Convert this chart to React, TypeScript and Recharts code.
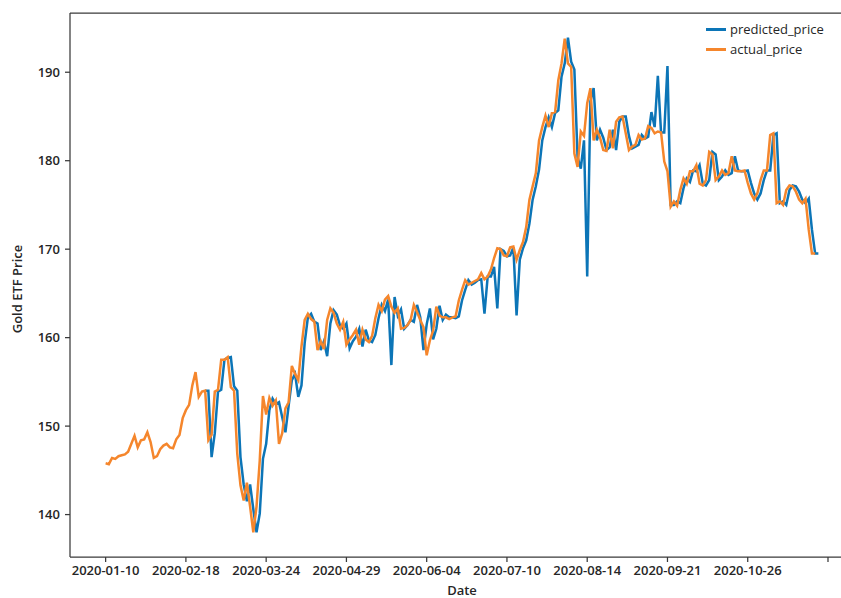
import React from 'react'
import { LineChart, Line, XAxis, YAxis, ReferenceLine } from 'recharts'

// ─── Data ────────────────────────────────────────────────────────────────────

// one label every 25 trading days; the last tick sits past the data and stays blank
const TICK_LABELS = [
  '2020-01-10', '2020-02-18', '2020-03-24', '2020-04-29', '2020-06-04',
  '2020-07-10', '2020-08-14', '2020-09-21', '2020-10-26', '',
]
const TICK_STEP = 25

const ACTUAL_PRICE = [
  145.8, 145.7, 146.4, 146.3, 146.6, 146.7, 146.8, 147.1, 148.0, 148.9,
  147.6, 148.4, 148.5, 149.3, 148.2, 146.4, 146.6, 147.4, 147.8, 148.0,
  147.6, 147.5, 148.5, 149.0, 150.9, 151.8, 152.4, 154.6, 156.1, 153.3,
  153.9, 154.0, 148.4, 149.0, 153.9, 154.1, 157.5, 157.5, 157.8, 154.4,
  154.0, 146.9, 143.3, 141.6, 143.6, 140.9, 138.0, 140.9, 146.1, 153.4,
  151.3, 153.2, 152.3, 152.9, 148.0, 149.2, 152.0, 152.7, 156.8, 155.9,
  155.2, 159.0, 162.0, 162.7, 162.1, 161.8, 158.6, 159.6, 158.7, 162.0,
  163.3, 162.8, 161.6, 160.9, 161.8, 159.2, 159.8, 160.3, 160.9, 159.2,
  160.9, 159.8, 159.5, 160.2, 162.2, 163.7, 163.0, 164.3, 164.7, 163.5,
  162.8, 163.3, 161.0, 161.1, 161.4, 162.0, 163.7, 162.9, 162.0, 161.2,
  158.0, 159.7, 160.8, 163.5, 162.5, 162.3, 162.3, 162.1, 162.3, 162.4,
  164.2, 165.4, 166.5, 166.0, 166.2, 166.4, 166.6, 167.3, 166.6, 166.9,
  167.7, 169.0, 170.1, 170.0, 169.3, 169.2, 170.2, 170.3, 168.8, 169.9,
  170.8, 172.5, 175.6, 177.1, 178.6, 182.3, 183.8, 185.1, 183.8, 185.4,
  185.5, 189.1, 191.0, 193.8, 191.0, 190.6, 180.8, 179.3, 183.3, 182.8,
  186.5, 188.2, 182.3, 183.5, 182.6, 181.2, 181.1, 183.5, 181.4, 184.4,
  184.9, 185.0, 183.1, 181.2, 181.6, 181.8, 182.9, 182.4, 182.5, 183.9,
  183.7, 183.1, 183.3, 183.2, 179.9, 178.8, 174.8, 175.4, 174.9, 176.7,
  178.0, 177.4, 178.8, 178.8, 179.5, 177.4, 177.2, 177.8, 181.0, 180.7,
  177.8, 178.2, 178.9, 178.4, 178.6, 180.5, 178.9, 178.8, 178.8, 178.9,
  177.5, 176.3, 175.6, 176.3, 177.8, 178.9, 178.9, 182.9, 183.1, 175.2,
  175.4, 175.0, 176.7, 177.2, 177.1, 176.5, 175.6, 175.2, 175.7, 172.2,
  169.5, 169.5,
]

// model output begins once the lookback window is filled
const PREDICTED_START = 31
const PREDICTED_PRICE = [
  154.0, 154.0, 146.5, 149.2, 153.9, 154.1, 157.5, 157.7, 157.8,
  154.5, 154.0, 146.5, 143.4, 141.5, 143.4, 140.6, 138.0, 140.1, 146.3,
  148.0, 151.8, 153.1, 152.5, 152.7, 151.0, 149.3, 152.3, 155.2, 155.9,
  153.3, 154.6, 159.4, 162.3, 162.7, 161.8, 161.6, 158.6, 159.6, 157.9,
  161.6, 163.1, 162.6, 161.4, 161.0, 161.6, 158.8, 159.6, 160.1, 161.0,
  159.0, 160.9, 159.7, 159.5, 160.3, 162.2, 163.7, 163.0, 164.3, 156.9,
  164.6, 162.5, 163.2, 161.0, 161.4, 162.0, 161.8, 163.7, 162.3, 158.6,
  161.5, 163.3, 159.8, 161.0, 163.6, 162.0, 162.6, 162.3, 162.3, 162.2,
  162.4, 164.2, 165.4, 166.5, 166.0, 166.2, 166.5, 166.6, 162.7, 166.9,
  166.9, 168.0, 163.3, 170.0, 169.8, 169.2, 169.3, 170.2, 162.5, 168.8,
  170.1, 171.0, 172.9, 175.6, 177.1, 179.0, 182.3, 183.8, 184.9, 183.8,
  185.4, 185.7, 189.5, 191.0, 193.9, 191.2, 190.3, 180.4, 179.1, 182.3,
  166.9, 186.7, 188.2, 182.3, 183.5, 182.6, 181.2, 181.5, 183.5, 181.2,
  184.4, 185.0, 185.0, 182.8, 181.4, 181.6, 181.8, 182.9, 182.5, 182.7,
  185.5, 183.8, 189.6, 183.2, 183.2, 190.7, 175.0, 175.0, 175.4, 175.2,
  176.9, 178.0, 177.6, 178.9, 178.8, 179.5, 177.4, 177.2, 177.8, 181.0,
  180.7, 177.8, 178.2, 178.9, 178.4, 178.6, 180.5, 178.9, 178.8, 178.8,
  178.9, 177.5, 176.3, 175.6, 176.3, 177.8, 178.9, 178.9, 182.9, 183.1,
  175.2, 175.4, 175.0, 176.7, 177.2, 177.1, 176.5, 175.6, 175.2, 175.7,
  172.2, 169.5, 169.5,
]

const SERIES = [
  { key: 'predicted', name: 'predicted_price', color: '#0c75b7' },
  { key: 'actual', name: 'actual_price', color: '#f5862c' },
]

// ─── Derived table / scales ──────────────────────────────────────────────────

const N = Math.max(ACTUAL_PRICE.length, PREDICTED_START + PREDICTED_PRICE.length)
const rows = Array.from({ length: N }, (_, i) => ({
  i,
  actual: i < ACTUAL_PRICE.length ? ACTUAL_PRICE[i] : null,
  predicted: i >= PREDICTED_START ? PREDICTED_PRICE[i - PREDICTED_START] ?? null : null,
}))

// matplotlib-style 5% margins around the data
const X_PAD = (N - 1) * 0.05
const X_MIN = -X_PAD
const X_MAX = N - 1 + X_PAD
const allValues = [...ACTUAL_PRICE, ...PREDICTED_PRICE]
const vMin = Math.min(...allValues)
const vMax = Math.max(...allValues)
const Y_PAD = (vMax - vMin) * 0.05
const Y_MIN = vMin - Y_PAD
const Y_MAX = vMax + Y_PAD

const X_TICKS = TICK_LABELS.map((_, k) => k * TICK_STEP)
const Y_TICKS = [140, 150, 160, 170, 180, 190]

const INK = '#262626'
const SPINE = '#3a3a3a'

function YTitle(props: { viewBox?: { x: number; y: number; width: number; height: number } }) {
  const vb = props.viewBox ?? { x: 0, y: 13, width: 70, height: 544 }
  const cx = vb.x + 17
  const cy = vb.y + vb.height / 2 + 4
  return (
    <text x={cx} y={cy} transform={`rotate(-90 ${cx} ${cy})`} textAnchor="middle"
      dominantBaseline="central" fill={INK} fontSize={13} fontWeight={600}>
      Gold ETF Price
    </text>
  )
}

function XTitle(props: { viewBox?: { x: number; y: number; width: number; height: number } }) {
  const vb = props.viewBox ?? { x: 70, y: 557, width: 784, height: 41 }
  return (
    <text x={vb.x + vb.width / 2} y={vb.y + 33} textAnchor="middle"
      dominantBaseline="central" fill={INK} fontSize={13} fontWeight={600}>
      Date
    </text>
  )
}

export default function App() {
  return (
    <div style={{
      position: 'absolute', left: 0, top: 0, width: 841, height: 598, overflow: 'hidden',
      background: '#fff', fontFamily: '"Open Sans", sans-serif',
    }}>
      <LineChart width={870} height={598} data={rows} margin={{ top: 13, right: 16, bottom: 0, left: 0 }}>
        <XAxis
          dataKey="i" type="number" domain={[X_MIN, X_MAX]} ticks={X_TICKS} interval={0}
          allowDataOverflow height={41}
          tickFormatter={(v: number) => TICK_LABELS[Math.round(v / TICK_STEP)] ?? ''}
          tick={{ fill: INK, fontSize: 13, fontWeight: 600 }}
          tickSize={5} tickMargin={4}
          tickLine={{ stroke: SPINE, strokeWidth: 1.25 }}
          axisLine={{ stroke: SPINE, strokeWidth: 1.25 }}
          label={<XTitle />}
        />
        <YAxis
          type="number" domain={[Y_MIN, Y_MAX]} ticks={Y_TICKS} interval={0}
          allowDataOverflow width={70}
          tick={{ fill: INK, fontSize: 13, fontWeight: 600 }}
          tickSize={5} tickMargin={5}
          tickLine={{ stroke: SPINE, strokeWidth: 1.25 }}
          axisLine={{ stroke: SPINE, strokeWidth: 1.25 }}
          label={<YTitle />}
        />
        {/* top spine */}
        <ReferenceLine y={Y_MAX} stroke={SPINE} strokeWidth={1.25} ifOverflow="extendDomain" />
        {SERIES.map((s) => (
          <Line
            key={s.key} type="linear" dataKey={s.key} name={s.name}
            stroke={s.color} strokeWidth={2.5} dot={false} activeDot={false}
            connectNulls={false} isAnimationActive={false}
          />
        ))}
      </LineChart>

      {/* legend, upper right inside the axes */}
      <div style={{ position: 'absolute', left: 706, top: 19, fontSize: 13, color: INK, lineHeight: '20px' }}>
        {SERIES.map((s) => (
          <div key={s.key} style={{ display: 'flex', alignItems: 'center', height: 20 }}>
            <span style={{ display: 'inline-block', width: 20, height: 3, background: s.color, marginRight: 4 }} />
            <span>{s.name}</span>
          </div>
        ))}
      </div>
    </div>
  )
}
